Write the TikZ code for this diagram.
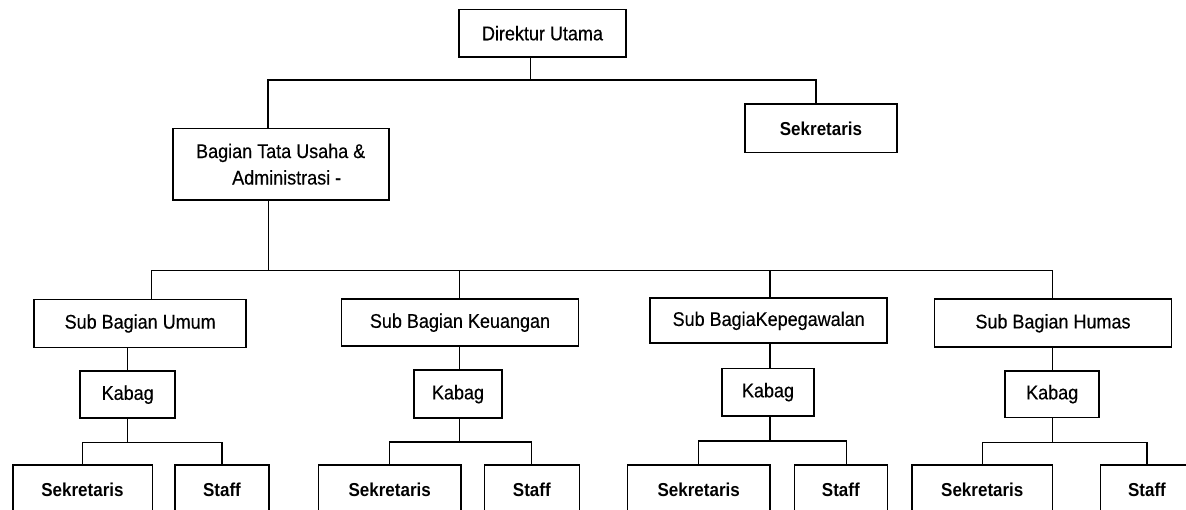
\documentclass[tikz,border=0pt]{standalone}
\usepackage{graphicx}
\usepackage{fontspec}
\setmainfont{Liberation Sans}
\newfontfamily\plainface[FakeBold=0.4]{Liberation Sans}
% labels are set slightly taller than the font's natural shape
\newcommand{\tall}[1]{\scalebox{1}[1.1]{#1}}
\begin{document}
\begin{tikzpicture}[x=1pt,y=-1pt,
  box/.style={draw, line width=1.6pt, inner sep=0pt, align=center,
              font=\plainface\fontsize{18}{26.5}\selectfont},
  boldbox/.style={box, font=\fontsize{17}{22}\selectfont\bfseries},
  link/.style={line width=1.3pt}]
\useasboundingbox (0,0) rectangle (1186,510);
\clip (0,0) rectangle (1186,510);

% top level
\node[box, minimum width=167pt, minimum height=47.5pt] (dir) at (542.5,33.2) {\tall{Direktur Utama}};
\node[boldbox, minimum width=152pt, minimum height=48.4pt] (sek) at (821,128.5) {\tall{Sekretaris}};
\node[box, minimum width=216pt, minimum height=71.7pt] (bag) at (280.7,164.2)
  {\tall{Bagian Tata Usaha \&}\\\hspace*{12pt}\tall{Administrasi -}};

% sub-divisions
\node[box, minimum width=212pt, minimum height=48pt] (subU) at (140.2,323.5) {\tall{Sub Bagian Umum}};
\node[box, minimum width=237pt, minimum height=47pt] (subK) at (460,322.7) {\tall{Sub Bagian Keuangan}};
\node[box, minimum width=237pt, minimum height=45pt] (subP) at (768.7,320.8) {\tall{Sub BagiaKepegawalan}};
\node[box, minimum width=237pt, minimum height=48pt] (subH) at (1053,323.3) {\tall{Sub Bagian Humas}};

% heads of each sub-division
\node[box, minimum width=95pt, minimum height=47pt] (kabU) at (127.7,394.7) {\tall{Kabag}};
\node[box, minimum width=88pt, minimum height=48pt] (kabK) at (458,394.2) {\tall{Kabag}};
\node[box, minimum width=92pt, minimum height=47.7pt] (kabP) at (768,392.2) {\tall{Kabag}};
\node[box, minimum width=94pt, minimum height=46.3pt] (kabH) at (1052.2,394.2) {\tall{Kabag}};

% staff row (runs past the lower edge)
\node[boldbox, minimum width=139.6pt, minimum height=50pt] (sekU) at (82.5,490) {\tall{Sekretaris}};
\node[boldbox, minimum width=94.3pt, minimum height=50pt] (stfU) at (222,490) {\tall{Staff}};
\node[boldbox, minimum width=142.7pt, minimum height=50pt] (sekK) at (389.7,490) {\tall{Sekretaris}};
\node[boldbox, minimum width=95pt, minimum height=50pt] (stfK) at (531.8,490) {\tall{Staff}};
\node[boldbox, minimum width=142.7pt, minimum height=50pt] (sekP) at (698.7,490) {\tall{Sekretaris}};
\node[boldbox, minimum width=93pt, minimum height=50pt] (stfP) at (840.8,490) {\tall{Staff}};
\node[boldbox, minimum width=140.7pt, minimum height=50pt] (sekH) at (982.3,490) {\tall{Sekretaris}};
\node[boldbox, minimum width=93pt, minimum height=50pt] (stfH) at (1147,490) {\tall{Staff}};

% junction points
\coordinate (dirJ) at (530.7,80);
\coordinate (topL) at (268,80);
\coordinate (topR) at (816,80);
\coordinate (bagJ) at (268.5,270.7);
\coordinate (busL) at (151.7,270.7);
\coordinate (busR) at (1052.7,270.7);
\coordinate (colK) at (459.3,270.7);
\coordinate (colP) at (770,270.7);

% top connectors
\draw[link] (dir.south -| dirJ) -- (dirJ);
\draw[link] (bag.north -| topL) -- (topL) -- (topR) -- (sek.north -| topR);
\draw[link] (bag.south -| bagJ) -- (bagJ);

% bus to sub-divisions
\draw[link] (subU.north -| busL) -- (busL) -- (busR) -- (subH.north -| busR);
\draw[link] (subK.north -| colK) -- (colK);
\draw[link] (subP.north -| colP) -- (colP);

% sub-division to head
\draw[link] (kabU.north) -- (kabU.north |- subU.south);
\draw[link] (subK.south -| colK) -- (kabK.north -| colK);
\draw[link] (subP.south -| colP) -- (kabP.north -| colP);
\draw[link] (kabH.north -| busR) -- (subH.south -| busR);

% head to staff
\path (kabU.south) ++(0,23.5) coordinate (jU);
\path (kabK.south -| colK) ++(0,23) coordinate (jK);
\path (kabP.south -| colP) ++(0,24) coordinate (jP);
\path (kabH.south -| busR) ++(0,24.5) coordinate (jH);
\draw[link] (kabU.south) -- (jU);
\draw[link] (sekU.north) |- (jU) -| (stfU.north);
\draw[link] (kabK.south -| jK) -- (jK);
\draw[link] (sekK.north) |- (jK) -| (stfK.north);
\draw[link] (kabP.south -| jP) -- (jP);
\draw[link] (sekP.north) |- (jP) -| ([xshift=6pt]stfP.north);
\draw[link] (kabH.south -| jH) -- (jH);
\draw[link] (sekH.north) |- (jH) -| (stfH.north);
\end{tikzpicture}
\end{document}
